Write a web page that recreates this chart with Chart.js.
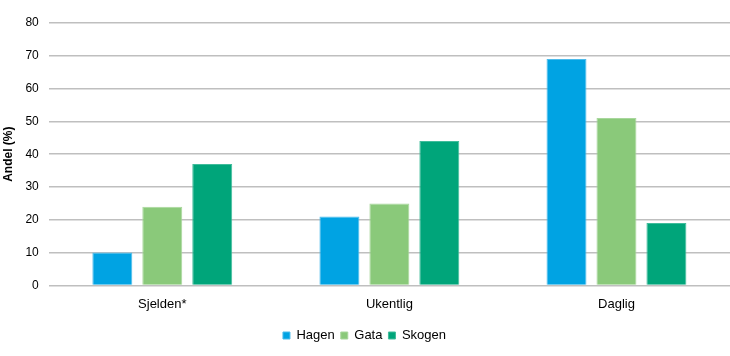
<!DOCTYPE html>
<html>
<head>
<meta charset="utf-8">
<script src="https://cdn.jsdelivr.net/npm/chart.js@4"></script>
<style>
html,body{margin:0;padding:0;background:#fff;}
#wrap{width:730px;height:356px;position:relative;}
</style>
</head>
<body>
<div id="wrap"><canvas id="c" width="730" height="356"></canvas></div>
<script>
const categories = ["Sjelden*", "Ukentlig", "Daglig"];
const hagen = [10, 21, 69];
const gata = [24, 25, 51];
const skogen = [37, 44, 19];
const yTicks = [0, 10, 20, 30, 40, 50, 60, 70, 80];

const font = "'Liberation Sans', Arial, sans-serif";
new Chart(document.getElementById('c'), {
  type: 'bar',
  data: {
    labels: categories,
    datasets: [
      {label: 'Hagen', data: hagen, backgroundColor: '#00A3E3', borderColor: '#4DBBEB', borderWidth: 1},
      {label: 'Gata', data: gata, backgroundColor: '#8AC97A', borderColor: '#A8D79C', borderWidth: 1},
      {label: 'Skogen', data: skogen, backgroundColor: '#00A57A', borderColor: '#40BC9B', borderWidth: 1}
    ]
  },
  options: {
    responsive: false,
    animation: false,
    devicePixelRatio: 1,
    layout: {padding: {top: 23, right: 0, left: -1, bottom: 4}},
    datasets: {bar: {categoryPercentage: 0.66, barPercentage: 0.8}},
    plugins: {
      tooltip: {enabled: false},
      legend: {
        position: 'bottom',
        labels: {
          font: {family: font, size: 13},
          color: '#000',
          boxWidth: 7,
          boxHeight: 7,
          padding: 6,
          useBorderRadius: false
        }
      }
    },
    scales: {
      x: {
        grid: {display: false, drawTicks: false},
        border: {display: false},
        ticks: {font: {family: font, size: 13}, color: '#000', padding: 11}
      },
      y: {
        min: 0, max: 80,
        afterBuildTicks: (ax) => { ax.ticks = yTicks.map(v => ({value: v})); },
        grid: {color: '#BFBFBF', lineWidth: 1.5, drawTicks: false},
        border: {display: false},
        ticks: {font: {family: font, size: 12}, color: '#000', padding: 10},
        title: {display: true, text: 'Andel (%)', font: {family: font, size: 12, weight: 'bold'}, color: '#000', padding: {top: 2, bottom: 0}}
      }
    }
  }
});
</script>
</body>
</html>
